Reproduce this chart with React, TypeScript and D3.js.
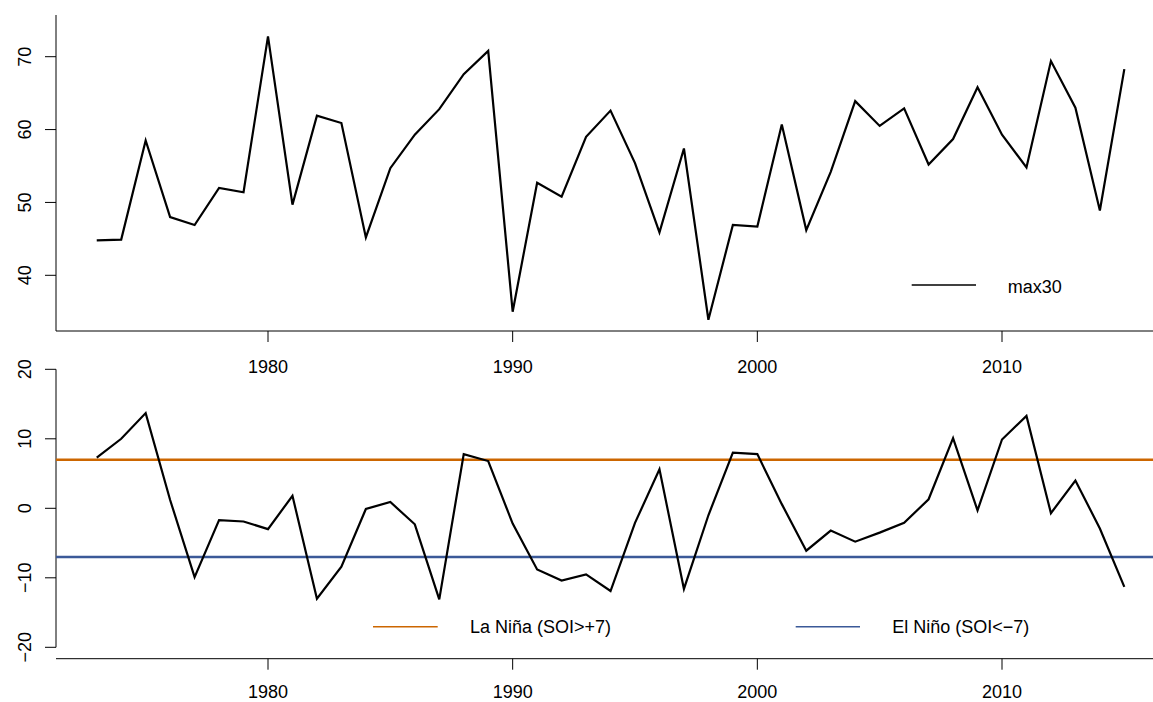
import React from "react";
import * as d3 from "d3";

// years 1973..2015
const years = d3.range(1973, 2016);

// annual max 30-min rainfall
const max30 = [
  44.8, 44.9, 58.5, 48.0, 46.9, 52.0, 51.4, 72.8, 49.7, 61.9, 60.9, 45.2, 54.7,
  59.3, 62.8, 67.6, 70.8, 35.0, 52.7, 50.8, 59.0, 62.6, 55.4, 45.9, 57.4, 33.9,
  46.9, 46.7, 60.7, 46.2, 54.2, 63.9, 60.5, 62.9, 55.2, 58.7, 65.8, 59.3, 54.8,
  69.4, 63.0, 48.9, 68.3,
];

// Southern Oscillation Index
const soi = [
  7.3, 10.0, 13.7, 1.2, -9.9, -1.7, -1.9, -3.0, 1.8, -13.0, -8.4, -0.1, 0.9,
  -2.3, -13.1, 7.8, 6.8, -2.2, -8.8, -10.4, -9.5, -11.9, -2.1, 5.6, -11.6, -1.0,
  8.0, 7.8, 0.6, -6.1, -3.2, -4.8, -3.5, -2.1, 1.3, 10.1, -0.3, 9.9, 13.3, -0.7,
  4.0, -2.9, -11.3,
];

const xTicks = [1980, 1990, 2000, 2010];
const topTicks = [40, 50, 60, 70];
const botTicks = [-20, -10, 0, 10, 20];
const laNina = 7;
const elNino = -7;

const W = 1153;
const H = 702;
const FONT = "'Liberation Sans', Arial, Helvetica, sans-serif";
const ORANGE = "#cc6600";
const BLUE = "#3b5998";

const fmt = (v: number) => (v < 0 ? "\u2212" + Math.abs(v) : String(v));

export default function App() {
  const x = d3.scaleLinear().domain([1980, 2010]).range([268, 1002]);
  const yTop = d3.scaleLinear().domain([40, 70]).range([275.3, 56.7]);
  const yBot = d3.scaleLinear().domain([-20, 20]).range([647.3, 369.3]);

  const left = 56;
  const topY0 = 15;
  const topY1 = 331;
  const botAxisY = 658.7;

  const lineTop = d3
    .line<number>()
    .x((_, i) => x(years[i]))
    .y((d) => yTop(d));
  const lineBot = d3
    .line<number>()
    .x((_, i) => x(years[i]))
    .y((d) => yBot(d));

  const tickLen = 11;

  return (
    <svg
      width={W}
      height={H}
      style={{ position: "absolute", left: 0, top: 0, background: "#fff" }}
      fontFamily={FONT}
    >
      {/* ---------- top panel ---------- */}
      <path
        d={`M${left},${topY0}V${topY1}H${W}`}
        fill="none"
        stroke="#000"
        strokeWidth={1}
      />
      {topTicks.map((t) => (
        <g key={t}>
          <line x1={left - tickLen} x2={left} y1={yTop(t)} y2={yTop(t)} stroke="#000" />
          <text
            transform={`translate(31,${yTop(t)}) rotate(-90)`}
            textAnchor="middle"
            fontSize={18}
          >
            {t}
          </text>
        </g>
      ))}
      {xTicks.map((t) => (
        <g key={t}>
          <line x1={x(t)} x2={x(t)} y1={topY1} y2={topY1 + tickLen} stroke="#000" />
          <text x={x(t)} y={373.3} textAnchor="middle" fontSize={18}>
            {t}
          </text>
        </g>
      ))}
      <path d={lineTop(max30) ?? ""} fill="none" stroke="#000" strokeWidth={2.2} strokeLinejoin="miter" />
      {/* legend */}
      <line x1={911.7} x2={976} y1={285} y2={285} stroke="#000" strokeWidth={1.5} />
      <text x={1007.7} y={292.5} fontSize={18}>
        max30
      </text>

      {/* ---------- bottom panel ---------- */}
      <line x1={left} x2={left} y1={yBot(20)} y2={yBot(-20)} stroke="#000" />
      {botTicks.map((t) => (
        <g key={t}>
          <line x1={left - tickLen} x2={left} y1={yBot(t)} y2={yBot(t)} stroke="#000" />
          <text
            transform={`translate(31,${yBot(t)}) rotate(-90)`}
            textAnchor="middle"
            fontSize={18}
          >
            {fmt(t)}
          </text>
        </g>
      ))}
      <line x1={left} x2={W} y1={botAxisY} y2={botAxisY} stroke="#000" />
      {xTicks.map((t) => (
        <g key={t}>
          <line x1={x(t)} x2={x(t)} y1={botAxisY} y2={botAxisY + tickLen} stroke="#000" />
          <text x={x(t)} y={698.3} textAnchor="middle" fontSize={18}>
            {t}
          </text>
        </g>
      ))}
      <line x1={left} x2={W} y1={yBot(laNina)} y2={yBot(laNina)} stroke={ORANGE} strokeWidth={2.5} />
      <line x1={left} x2={W} y1={yBot(elNino)} y2={yBot(elNino)} stroke={BLUE} strokeWidth={2.5} />
      <path d={lineBot(soi) ?? ""} fill="none" stroke="#000" strokeWidth={2.2} />
      {/* legend */}
      <line x1={373} x2={437.7} y1={626.7} y2={626.7} stroke={ORANGE} strokeWidth={1.5} />
      <text x={470} y={633.3} fontSize={18}>
        La Niña (SOI&gt;+7)
      </text>
      <line x1={795.7} x2={860} y1={626.7} y2={626.7} stroke={BLUE} strokeWidth={1.5} />
      <text x={892.3} y={633.3} fontSize={18}>
        El Niño (SOI&lt;{"\u2212"}7)
      </text>
    </svg>
  );
}
